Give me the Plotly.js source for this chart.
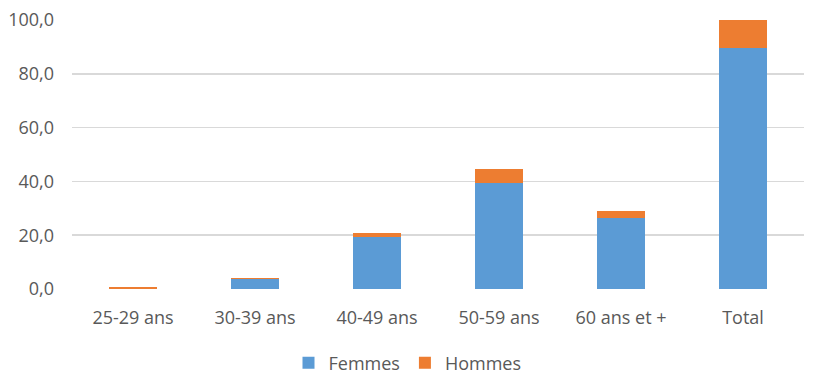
<!DOCTYPE html>
<html>
<head>
<meta charset="utf-8">
<script src="https://cdn.plot.ly/plotly-3.0.1.min.js"></script>
<style>html,body{margin:0;padding:0;background:#fff}#chart{width:815px;height:388px}</style>
</head>
<body>
<div id="chart"></div>
<script>
const categories = ["25-29 ans", "30-39 ans", "40-49 ans", "50-59 ans", "60 ans et +", "Total"];
const femmes = [0.1, 3.7, 19.2, 39.5, 26.3, 89.7];
const hommes = [0.6, 0.5, 1.6, 5.0, 2.8, 10.3];
const yTicks = [0, 20, 40, 60, 80, 100];

const font = {family: "Open Sans, Liberation Sans, sans-serif", size: 18, color: "#595959"};

const data = [
  {type: "bar", name: "Femmes", x: categories, y: femmes, marker: {color: "#5B9BD5", line: {width: 0}}, hoverinfo: "y"},
  {type: "bar", name: "Hommes", x: categories, y: hommes, marker: {color: "#ED7D31", line: {width: 0}}, hoverinfo: "y"}
];

const layout = {
  width: 815, height: 388,
  margin: {l: 72, r: 11, t: 20, b: 99, autoexpand: false},
  barmode: "stack",
  bargap: 0.6,
  separators: ",.",
  paper_bgcolor: "#fff", plot_bgcolor: "#fff",
  font: font,
  xaxis: {type: "category", tickfont: font, showgrid: false, showline: false, ticks: "", zeroline: false, automargin: false, ticklabelstandoff: 16},
  yaxis: {range: [0, 100], tickvals: yTicks, tickformat: ".1f", tickfont: font, gridcolor: "#d9d9d9", gridwidth: 1.5, zeroline: false, showline: false, ticks: "", ticklen: 0, automargin: false, ticklabelstandoff: 17},
  showlegend: true,
  legend: {orientation: "h", x: 0.5, xref: "container", xanchor: "center", y: 1 - 363/388, yref: "container", yanchor: "middle", font: font, traceorder: "normal", itemwidth: 30},
  bargroupgap: 0
};

Plotly.newPlot("chart", data, layout, {displayModeBar: false, staticPlot: true});
</script>
</body>
</html>
